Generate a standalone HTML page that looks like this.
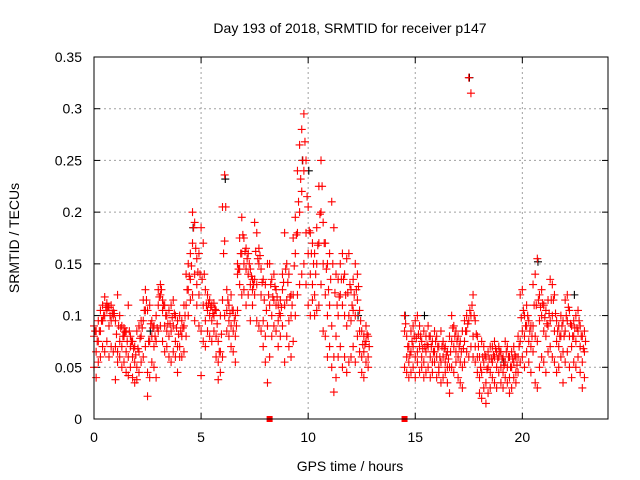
<!DOCTYPE html>
<html><head><meta charset="utf-8"><style>
html,body{margin:0;padding:0;background:#fff}
svg{display:block;font-family:"Liberation Sans",sans-serif}
</style></head><body>
<svg id="chart" width="640" height="480" viewBox="0 0 640 480" xmlns="http://www.w3.org/2000/svg">
<rect width="640" height="480" fill="#fff"/>
<text x="350" y="33" font-size="14" text-anchor="middle">Day 193 of 2018, SRMTID for receiver p147</text>
<text x="350" y="471" font-size="14" text-anchor="middle">GPS time / hours</text>
<text x="19" y="238" font-size="14" text-anchor="middle" transform="rotate(-90 19 238)">SRMTID / TECUs</text>
<g id="grid"></g><g id="axes"></g><g id="marks"></g>
<rect x="94" y="57" width="514" height="362" fill="none" stroke="#000" stroke-width="1"/>
</svg>
<script>
const xTicks=[0,5,10,15,20];
const yTicks=[0,0.05,0.1,0.15,0.2,0.25,0.3,0.35];
const yTickLabels=["0","0.05","0.1","0.15","0.2","0.25","0.3","0.35"];
const hours=[0.0,0.1,0.2,0.3,0.4,0.5,0.6,0.7,0.8,0.9,1.0,1.1,1.2,1.3,1.4,1.5,1.6,1.7,1.8,1.9,2.0,2.1,2.2,2.3,2.4,2.5,2.6,2.7,2.8,2.9,3.0,3.1,3.2,3.3,3.4,3.5,3.6,3.7,3.8,3.9,4.0,4.1,4.2,4.3,4.4,4.5,4.6,4.7,4.8,4.9,5.0,5.1,5.2,5.3,5.4,5.5,5.6,5.7,5.8,5.9,6.0,6.1,6.2,6.3,6.4,6.5,6.6,6.7,6.8,6.9,7.0,7.1,7.2,7.3,7.4,7.5,7.6,7.7,7.8,7.9,8.0,8.1,8.2,8.3,8.4,8.5,8.6,8.7,8.8,8.9,9.0,9.1,9.2,9.3,9.4,9.5,9.6,9.7,9.8,9.9,10.0,10.1,10.2,10.3,10.4,10.5,10.6,10.7,10.8,10.9,11.0,11.1,11.2,11.3,11.4,11.5,11.6,11.7,11.8,11.9,12.0,12.1,12.2,12.3,12.4,12.5,12.6,12.7,12.8,
14.5,14.6,14.7,14.8,14.9,15.0,15.1,15.2,15.3,15.4,15.5,15.6,15.7,15.8,15.9,16.0,16.1,16.2,16.3,16.4,16.5,16.6,16.7,16.8,16.9,17.0,17.1,17.2,17.3,17.4,17.5,17.6,17.7,17.8,17.9,18.0,18.1,18.2,18.3,18.4,18.5,18.6,18.7,18.8,18.9,19.0,19.1,19.2,19.3,19.4,19.5,19.6,19.7,19.8,19.9,20.0,20.1,20.2,20.3,20.4,20.5,20.6,20.7,20.8,20.9,21.0,21.1,21.2,21.3,21.4,21.5,21.6,21.7,21.8,21.9,22.0,22.1,22.2,22.3,22.4,22.5,22.6,22.7,22.8,22.9];
// values in milli-TECU
const srmtidLow=[50,40,55,60,70,65,75,60,70,65,38,55,60,50,55,45,42,50,40,35,38,45,55,60,70,22,40,55,50,40,85,90,75,65,70,60,55,65,60,45,60,60,65,80,100,115,120,95,110,90,42,75,70,85,80,75,85,60,38,45,60,100,85,80,70,65,55,105,130,120,125,110,120,95,110,120,95,90,85,70,55,35,60,80,90,85,70,80,90,55,80,70,60,75,100,120,130,140,150,130,110,100,115,100,105,110,130,85,80,60,70,50,26,40,60,70,50,60,45,55,60,70,55,80,65,45,40,55,50,
50,45,40,45,50,40,55,45,50,40,45,50,40,45,55,40,45,35,40,45,35,25,50,45,55,40,35,30,55,65,60,70,60,55,45,25,20,30,15,25,30,40,35,30,45,35,30,40,35,25,30,40,35,45,55,60,50,65,55,45,65,35,30,50,60,55,45,65,70,60,55,45,50,60,35,55,65,50,40,55,50,60,45,30,40];
const srmtidMid=[80,65,75,85,95,100,105,90,95,100,70,65,75,70,80,65,60,70,60,55,50,65,80,95,105,45,75,80,70,75,110,120,105,90,85,80,85,90,75,70,70,80,90,110,125,135,170,140,130,120,85,110,95,105,100,95,100,80,55,65,115,172,105,95,90,85,80,140,145,160,150,145,140,130,125,135,130,150,120,95,80,90,110,100,115,110,95,100,125,110,115,95,100,120,160,180,200,220,240,180,160,140,130,120,150,170,200,150,120,100,110,90,60,80,100,120,110,100,90,100,95,105,100,115,85,60,65,75,60,
85,60,55,65,70,60,65,70,60,55,65,70,60,55,65,60,50,55,60,55,50,50,75,70,65,60,55,50,75,85,95,100,80,70,60,40,45,55,35,50,45,55,60,50,60,50,45,55,50,40,50,55,45,60,75,85,80,90,75,70,90,80,75,95,100,85,80,90,95,100,85,75,70,80,65,85,95,80,70,80,75,85,70,55,65];
const srmtidUpper=[85,75,85,95,100,108,108,100,102,102,82,90,88,80,84,75,85,75,68,62,68,78,88,105,115,75,92,88,80,88,118,125,110,100,92,92,98,102,88,82,85,88,100,125,138,148,185,165,142,140,135,140,110,112,108,102,106,92,65,82,160,205,115,102,105,95,90,145,160,178,162,155,150,138,130,162,155,158,132,115,105,120,130,118,128,118,102,108,132,145,132,118,110,148,178,210,232,250,268,215,182,160,150,140,168,198,225,170,145,125,135,150,122,110,118,135,135,120,122,130,110,120,125,128,95,72,72,82,70,
92,70,62,75,80,78,82,80,68,70,72,80,70,65,75,70,60,70,68,62,58,65,88,80,75,70,65,68,85,92,105,110,100,82,70,50,60,62,48,58,58,62,68,58,65,58,52,65,60,50,58,62,52,70,98,105,90,100,85,80,110,110,115,108,112,98,92,102,115,115,102,85,80,90,80,100,108,92,80,88,88,95,80,68,75];
const srmtidHigh=[90,85,95,105,110,118,112,108,110,105,95,120,100,90,88,85,110,80,75,70,85,90,95,115,125,105,110,95,90,100,125,130,115,110,100,105,110,115,100,95,100,95,110,140,150,160,200,190,155,160,185,170,125,120,115,110,112,105,75,100,205,236,125,110,120,105,100,150,175,195,175,165,160,145,135,190,180,165,145,135,130,150,150,135,140,125,110,115,140,180,150,140,120,175,195,240,265,280,295,250,205,180,170,160,185,225,250,190,170,150,160,210,185,140,135,150,160,140,155,160,125,135,150,140,105,85,80,90,80,
100,80,70,85,90,95,100,90,75,85,80,90,80,75,85,80,70,85,75,70,65,80,100,90,85,80,75,85,95,100,330,315,120,95,80,60,75,70,60,65,70,70,75,65,70,65,60,75,70,60,65,70,60,80,120,125,100,110,95,90,130,140,155,120,125,110,105,115,135,130,120,95,90,100,95,115,120,105,90,95,100,105,90,80,85];
const blackHours=[17.5,20.7,10.0,14.5,22.4,15.4,9.7,6.1,2.6,12.3,4.6,19.1];
const blackValues=[330,152,240,100,120,100,250,232,85,100,185,55];
const flagHours=[8.2,14.5];

const NS="http://www.w3.org/2000/svg";
const X0=94,X1=608,Y0=419,Y1=57,XMAX=24,YMAX=0.35;
function xs(h){return X0+(X1-X0)*h/XMAX;}
function ys(v){return Y0-(Y0-Y1)*v/YMAX;}
function mk(tag,attrs,parent){const e=document.createElementNS(NS,tag);for(const k in attrs)e.setAttribute(k,attrs[k]);parent.appendChild(e);return e;}
const grid=document.getElementById('grid'),axes=document.getElementById('axes'),marks=document.getElementById('marks');
xTicks.forEach((t,i)=>{const x=xs(t);
 if(t>0){const g=mk('line',{x1:x,x2:x,y1:Y0,y2:Y1,stroke:'#a0a0a0','stroke-dasharray':'2,3','stroke-width':1},grid);
 
 }
 mk('line',{x1:x,x2:x,y1:Y0,y2:Y0-6,stroke:'#000'},axes);
 mk('line',{x1:x,x2:x,y1:Y1,y2:Y1+6,stroke:'#000'},axes);
 const l=mk('text',{x:x,y:Y0+23,'font-size':14,'text-anchor':'middle'},axes);l.textContent=String(t);
 
 
});
yTicks.forEach((t,i)=>{const y=ys(t);
 if(t>0&&t<YMAX){const g=mk('line',{x1:X0,x2:X1,y1:y,y2:y,stroke:'#a0a0a0','stroke-dasharray':'2,3','stroke-width':1},grid);
 
 }
 mk('line',{x1:X0,x2:X0+6,y1:y,y2:y,stroke:'#000'},axes);
 mk('line',{x1:X1,x2:X1-6,y1:y,y2:y,stroke:'#000'},axes);
 const l=mk('text',{x:X0-12,y:y+5,'font-size':14,'text-anchor':'end'},axes);l.textContent=yTickLabels[i];
 
 
});
function cross(h,v,color,name){const x=xs(h),y=ys(v/1000);
 const p=mk('path',{d:`M${x-4},${y}h8M${x},${y-4}v8`,stroke:color,'stroke-width':1.1,fill:'none'},marks);
 
 }
blackHours.forEach((h,i)=>cross(h+0.03,blackValues[i],'#000','black-point'));
[srmtidLow,srmtidMid,srmtidHigh].forEach(arr=>{hours.forEach((h,i)=>cross(h,arr[i],'#f00','red-point'));});
hours.forEach((h,i)=>cross(h+0.05,srmtidUpper[i],'#f00','red-point'));
flagHours.forEach(h=>{const r=mk('rect',{x:xs(h)-3,y:Y0-3,width:6,height:6,fill:'#f00'},marks);
 
 });
</script>
</body></html>
